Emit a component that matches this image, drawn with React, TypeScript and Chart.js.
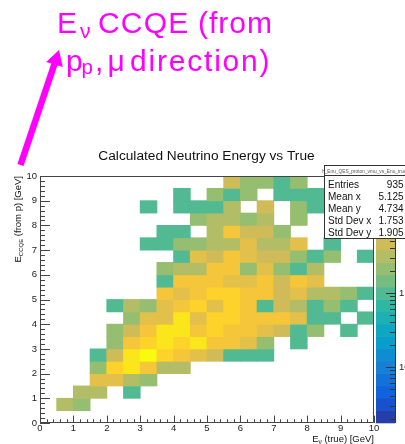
import { useEffect, useRef } from 'react';
import { Chart, registerables } from 'chart.js';
Chart.register(...registerables);

const W = 405;
const H = 444;
const FONT = '"Liberation Sans", Arial, Helvetica, sans-serif';
const MAGENTA = '#ff00ff';

// ---------------- data ----------------
const xEdges = [0, 0.5, 1, 1.5, 2, 2.5, 3, 3.5, 4, 4.5, 5, 5.5, 6, 6.5, 7, 7.5, 8, 8.5, 9, 9.5, 10];
const yEdges = [0, 0.5, 1, 1.5, 2, 2.5, 3, 3.5, 4, 4.5, 5, 5.5, 6, 6.5, 7, 7.5, 8, 8.5, 9, 9.5, 10];
// counts[j][i]: j = E_CCQE bin (bottom to top), i = E_nu(true) bin (left to right)
const counts: number[][] = [
  [0, 0, 0, 0, 0, 0, 0, 0, 0, 0, 0, 0, 0, 0, 0, 0, 0, 0, 0, 0],
  [0, 3, 2, 0, 0, 0, 0, 0, 0, 0, 0, 0, 0, 0, 0, 0, 0, 0, 0, 0],
  [0, 0, 3, 3, 0, 1, 0, 0, 0, 0, 0, 0, 0, 0, 0, 0, 0, 0, 0, 0],
  [0, 0, 0, 7, 7, 3, 2, 0, 0, 0, 0, 0, 0, 0, 0, 0, 0, 0, 0, 0],
  [0, 0, 0, 2, 14, 25, 10, 3, 3, 0, 0, 0, 0, 0, 0, 0, 0, 0, 0, 0],
  [0, 0, 0, 1, 5, 25, 36, 14, 10, 7, 5, 1, 1, 1, 0, 0, 0, 0, 0, 0],
  [0, 0, 0, 0, 2, 10, 14, 25, 14, 25, 10, 10, 7, 2, 0, 1, 0, 0, 0, 0],
  [0, 0, 0, 0, 2, 5, 10, 25, 25, 10, 14, 10, 10, 7, 5, 1, 2, 0, 1, 0],
  [0, 0, 0, 0, 0, 2, 7, 7, 25, 7, 14, 14, 10, 10, 10, 7, 1, 1, 0, 1],
  [0, 0, 0, 0, 1, 3, 2, 7, 10, 14, 7, 14, 10, 1, 5, 3, 1, 2, 1, 0],
  [0, 0, 0, 0, 0, 0, 0, 10, 7, 10, 14, 14, 10, 10, 5, 7, 3, 3, 2, 1],
  [0, 0, 0, 0, 0, 0, 0, 1, 10, 10, 10, 7, 7, 10, 5, 10, 7, 0, 0, 0],
  [0, 0, 0, 0, 0, 0, 0, 2, 3, 3, 10, 10, 2, 7, 2, 1, 3, 0, 0, 0],
  [0, 0, 0, 0, 0, 0, 0, 0, 1, 7, 5, 10, 7, 5, 5, 2, 1, 2, 0, 1],
  [0, 0, 0, 0, 0, 0, 1, 1, 2, 2, 3, 3, 7, 3, 3, 7, 0, 1, 0, 0],
  [0, 0, 0, 0, 0, 0, 0, 1, 1, 0, 3, 10, 5, 5, 2, 0, 0, 0, 0, 0],
  [0, 0, 0, 0, 0, 0, 0, 0, 0, 2, 3, 3, 2, 3, 0, 2, 0, 0, 0, 0],
  [0, 0, 0, 0, 0, 0, 1, 0, 1, 1, 1, 3, 0, 5, 0, 2, 1, 0, 0, 0],
  [0, 0, 0, 0, 0, 0, 0, 0, 1, 0, 2, 1, 2, 0, 1, 1, 1, 0, 0, 0],
  [0, 0, 0, 0, 0, 0, 0, 0, 0, 0, 0, 5, 2, 2, 1, 2, 0, 0, 0, 0],
];

const chartTitle = 'Calculated Neutrino Energy vs True';
const histName = 'h_Enu_QES_proton_vmu_vs_Enu_true';
const statsLabels = ['Entries', 'Mean x', 'Mean y', 'Std Dev x', 'Std Dev y'];
const statsValues = ['935', '5.125', '4.734', '1.753', '1.905'];
const zMin = 0.0175;
const zMax = 38.2;
const zMajor = [0.01, 0.1, 1, 10];
const zLabels = [
  { v: 1, base: '1', sup: '' },
  { v: 0.1, base: '10', sup: '-1' },
];
const nContours = 20;

// ROOT kBird palette
const birdStops = [0.0, 0.125, 0.25, 0.375, 0.5, 0.625, 0.75, 0.875, 1.0];
const birdR = [0.2082, 0.0592, 0.078, 0.0232, 0.1802, 0.5301, 0.8186, 0.9956, 0.9764];
const birdG = [0.1664, 0.3599, 0.5041, 0.6419, 0.7178, 0.7492, 0.7328, 0.7862, 0.9832];
const birdB = [0.5293, 0.8684, 0.8385, 0.7914, 0.6425, 0.4662, 0.3499, 0.1968, 0.0539];

function bird(t: number): string {
  const tt = Math.max(0, Math.min(1, t));
  let k = 0;
  while (k < birdStops.length - 2 && tt > birdStops[k + 1]) k++;
  const f = (tt - birdStops[k]) / (birdStops[k + 1] - birdStops[k]);
  const c = (a: number[]) => Math.round(255 * (a[k] + f * (a[k + 1] - a[k])));
  return `rgb(${c(birdR)},${c(birdG)},${c(birdB)})`;
}

function zFrac(v: number): number {
  return (Math.log10(v) - Math.log10(zMin)) / (Math.log10(zMax) - Math.log10(zMin));
}

function cellColor(v: number): string {
  if (!v || v <= 0) return 'rgba(0,0,0,0)';
  let k = Math.floor(zFrac(v) * nContours);
  k = Math.max(0, Math.min(nContours - 1, k));
  return bird((k + 0.99) / nContours);
}

type Part = { t: string; size: number; dy?: number; ls?: number };

function drawParts(ctx: CanvasRenderingContext2D, parts: Part[], x: number, y: number, measureOnly = false): number {
  let cx = x;
  for (const p of parts) {
    ctx.font = `${p.size}px ${FONT}`;
    (ctx as any).letterSpacing = `${p.ls ?? 0}px`;
    const w = ctx.measureText(p.t).width;
    if (!measureOnly) ctx.fillText(p.t, cx, y + (p.dy ?? 0));
    cx += w;
  }
  (ctx as any).letterSpacing = '0px';
  return cx - x;
}

const decor = {
  id: 'rootDecor',
  afterDatasetsDraw(chart: any) {
    const { ctx, chartArea: a, scales } = chart;
    const xs = scales.x;
    const ys = scales.y;
    ctx.save();
    ctx.strokeStyle = '#444';
    ctx.lineWidth = 1;
    // frame
    ctx.beginPath();
    ctx.rect(Math.round(a.left) + 0.5, Math.round(a.top) + 0.5, Math.round(a.right - a.left) - 1, Math.round(a.bottom - a.top) - 1);
    ctx.stroke();
    // x ticks
    ctx.beginPath();
    for (let k = 0; k <= 50; k++) {
      const px = Math.round(xs.getPixelForValue(k / 5)) + 0.5;
      const len = k % 5 === 0 ? 7.4 : 3.7;
      ctx.moveTo(px, a.bottom);
      ctx.lineTo(px, a.bottom - len);
    }
    // y ticks
    for (let k = 0; k <= 50; k++) {
      const py = Math.round(ys.getPixelForValue(k / 5)) + 0.5;
      const len = k % 5 === 0 ? 10 : 5;
      ctx.moveTo(a.left, py);
      ctx.lineTo(a.left + len, py);
    }
    ctx.stroke();
    ctx.restore();
  },
  afterDraw(chart: any) {
    const { ctx, chartArea: a } = chart;
    ctx.save();

    // ---- colour palette bar ----
    const cb0 = a.right + 2;
    const cb1 = a.right + 21;
    const hh = a.bottom - a.top;
    for (let k = 0; k < nContours; k++) {
      const yb = a.bottom - (k / nContours) * hh;
      const yt = a.bottom - ((k + 1) / nContours) * hh;
      ctx.fillStyle = bird((k + 0.99) / nContours);
      ctx.fillRect(cb0, yt - 0.3, cb1 - cb0, yb - yt + 0.6);
    }
    ctx.strokeStyle = '#333';
    ctx.lineWidth = 1;
    ctx.beginPath();
    ctx.moveTo(cb1 + 0.5, a.top);
    ctx.lineTo(cb1 + 0.5, a.bottom);
    for (const m of zMajor) {
      for (let d = 1; d <= 9; d++) {
        const v = m * d;
        if (v < zMin || v > zMax) continue;
        const py = Math.round(a.bottom - zFrac(v) * hh) + 0.5;
        const len = d === 1 ? 9 : 5;
        ctx.moveTo(cb1, py);
        ctx.lineTo(cb1 - len, py);
      }
    }
    ctx.stroke();
    ctx.fillStyle = '#222';
    ctx.textBaseline = 'middle';
    ctx.textAlign = 'left';
    for (const l of zLabels) {
      const py = a.bottom - zFrac(l.v) * hh;
      ctx.font = `9.5px ${FONT}`;
      ctx.fillText(l.base, cb1 + 4, py);
      if (l.sup) {
        const w = ctx.measureText(l.base).width;
        ctx.font = `6.5px ${FONT}`;
        ctx.fillText(l.sup, cb1 + 4 + w, py - 4);
      }
    }

    // ---- stats box ----
    const sx = 324;
    const sy = 165;
    const sb = 238;
    ctx.fillStyle = '#fff';
    ctx.fillRect(sx, sy, W - sx + 5, sb - sy);
    ctx.strokeStyle = '#333';
    ctx.strokeRect(sx + 0.5, sy + 0.5, W - sx + 5, sb - sy);
    ctx.beginPath();
    ctx.moveTo(sx, sy + 10.5);
    ctx.lineTo(W, sy + 10.5);
    ctx.stroke();
    ctx.fillStyle = '#555';
    ctx.textBaseline = 'alphabetic';
    ctx.font = `4.8px ${FONT}`;
    ctx.textAlign = 'left';
    ctx.fillText(histName, sx - 2, sy + 7.5);
    ctx.fillStyle = '#111';
    ctx.font = `10px ${FONT}`;
    statsLabels.forEach((lab, i) => {
      const by = 188 + i * 12.1;
      ctx.textAlign = 'left';
      ctx.fillText(lab, 328, by);
      ctx.textAlign = 'right';
      ctx.fillText(statsValues[i], 403.5, by);
    });

    // ---- title ----
    ctx.textAlign = 'left';
    ctx.fillStyle = '#111';
    ctx.font = `13.7px ${FONT}`;
    const tw = ctx.measureText(chartTitle).width;
    ctx.fillText(chartTitle, 206.5 - tw / 2, 159.5);

    // ---- axis titles ----
    const xParts: Part[] = [
      { t: 'E', size: 9.5 },
      { t: 'ν', size: 6.5, dy: 2 },
      { t: ' (true) [GeV]', size: 9.5 },
    ];
    const xw = drawParts(ctx, xParts, 0, 0, true);
    drawParts(ctx, xParts, a.right - xw, 442);

    const yParts: Part[] = [
      { t: 'E', size: 9.5 },
      { t: 'CCQE', size: 6, dy: 2 },
      { t: ' (from p) [GeV]', size: 9.5 },
    ];
    const yw = drawParts(ctx, yParts, 0, 0, true);
    ctx.save();
    ctx.translate(20.5, a.top);
    ctx.rotate(-Math.PI / 2);
    drawParts(ctx, yParts, -yw, 0);
    ctx.restore();

    // ---- annotation ----
    ctx.fillStyle = MAGENTA;
    drawParts(ctx, [{ t: 'E', size: 30, ls: 1 }], 57, 32.5);
    drawParts(ctx, [{ t: 'ν', size: 21 }], 80, 37.5);
    drawParts(ctx, [{ t: 'CCQE', size: 30, ls: 1.2 }], 98, 32.5);
    drawParts(ctx, [{ t: '(from', size: 30, ls: 1 }], 198, 32.5);
    drawParts(ctx, [{ t: 'p', size: 30 }], 66, 70.7);
    drawParts(ctx, [{ t: 'p', size: 20.5 }], 81.5, 73.6);
    drawParts(ctx, [{ t: ',', size: 30 }], 95, 70.7);
    drawParts(ctx, [{ t: 'μ', size: 30 }], 107.5, 70.7);
    drawParts(ctx, [{ t: 'direction)', size: 30, ls: 1.8 }], 130, 70.7);

    // arrow
    ctx.strokeStyle = MAGENTA;
    ctx.lineWidth = 6.5;
    ctx.beginPath();
    ctx.moveTo(20.5, 165);
    ctx.lineTo(54.5, 64);
    ctx.stroke();
    ctx.beginPath();
    ctx.moveTo(59, 50);
    ctx.lineTo(46.2, 62);
    ctx.lineTo(62.8, 67);
    ctx.closePath();
    ctx.fill();

    ctx.restore();
  },
};

export default function App() {
  const ref = useRef<HTMLCanvasElement | null>(null);
  useEffect(() => {
    document.body.style.margin = '0';
    const canvas = ref.current;
    if (!canvas) return;
    const cells: { x: number; y: number[]; v: number }[] = [];
    counts.forEach((row, j) =>
      row.forEach((v, i) => {
        if (v > 0) cells.push({ x: (xEdges[i] + xEdges[i + 1]) / 2, y: [yEdges[j], yEdges[j + 1]], v });
      })
    );
    const tickFont = { family: FONT, size: 9.5 };
    const chart = new Chart(canvas, {
      type: 'bar',
      data: {
        datasets: [
          {
            data: cells as any,
            backgroundColor: (c: any) => cellColor(c.raw ? c.raw.v : 0),
            borderWidth: 0,
            barPercentage: 1,
            categoryPercentage: 1,
            inflateAmount: 0.4,
          } as any,
        ],
      },
      options: {
        responsive: false,
        animation: false,
        devicePixelRatio: 1,
        events: [],
        layout: { padding: { left: 0, right: 31, top: 176, bottom: 0 } },
        plugins: { legend: { display: false }, tooltip: { enabled: false }, title: { display: false } },
        scales: {
          x: {
            type: 'linear',
            min: 0,
            max: 10,
            offset: false,
            grid: { display: false, drawTicks: false },
            border: { display: false },
            ticks: { stepSize: 1, autoSkip: false, maxRotation: 0, padding: 0, color: '#222', font: tickFont },
            afterFit: (s: any) => {
              s.height = 21;
            },
          },
          y: {
            type: 'linear',
            min: 0,
            max: 10,
            grid: { display: false, drawTicks: false },
            border: { display: false },
            ticks: { stepSize: 1, autoSkip: false, padding: 3, color: '#222', font: tickFont },
            afterFit: (s: any) => {
              s.width = 40;
            },
          },
        },
      } as any,
      plugins: [decor as any],
    });
    return () => chart.destroy();
  }, []);
  return (
    <div style={{ width: W, height: H }}>
      <canvas ref={ref} width={W} height={H} style={{ display: 'block' }} />
    </div>
  );
}
